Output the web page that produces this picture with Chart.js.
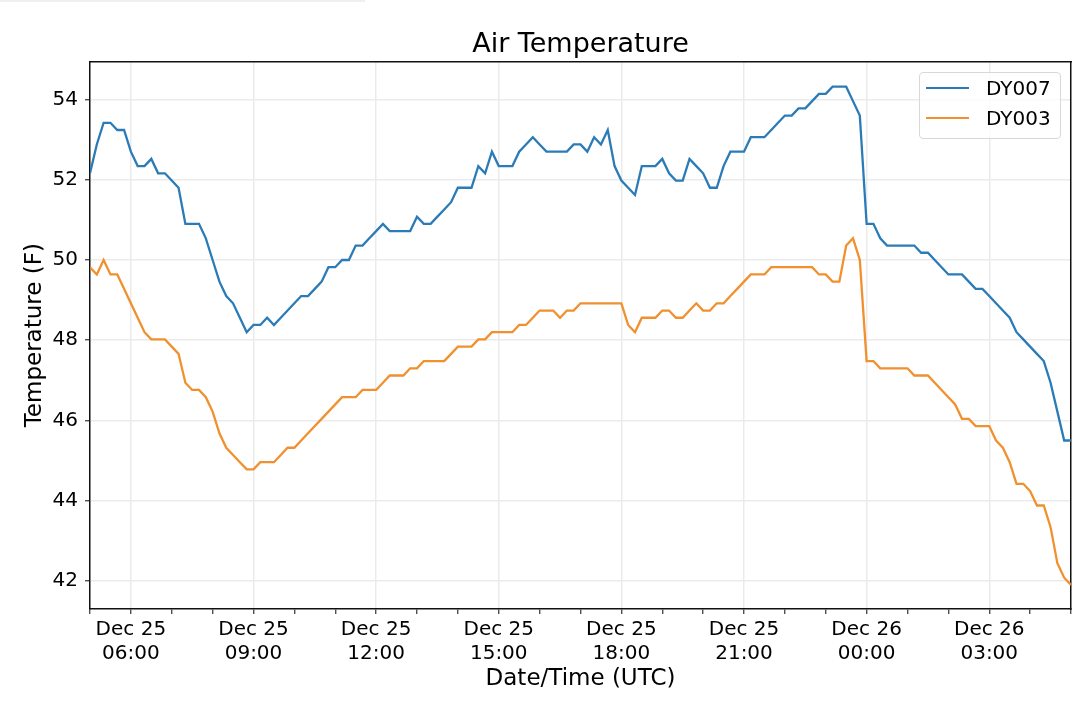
<!DOCTYPE html>
<html>
<head>
<meta charset="utf-8">
<script src="https://cdn.jsdelivr.net/npm/chart.js@4.4.1/dist/chart.umd.min.js"></script>
<style>
  body { margin: 0; background: #fff; }
  #wrap { position: relative; width: 1080px; height: 702px; }
  #topbar { position: absolute; left: 0; top: 0; width: 365px; height: 2px; background: #efefef; }
  #legend { position: absolute; left: 919px; top: 72px; width: 142px; height: 67px; box-sizing: border-box;
            border: 1px solid #d8d8d8; border-radius: 4px; background: rgba(255,255,255,0.8);
            font: 20px "DejaVu Sans"; color: #000; }
  #legend .row { display: flex; align-items: center; height: 30px; }
  #legend .swatch { width: 43px; height: 2px; margin-left: 6px; margin-right: 17px; }
</style>
</head>
<body>
<div id="wrap">
  <canvas id="canvas" width="1080" height="702"></canvas>
  <div id="topbar"></div>
  <div id="legend"></div>
</div>
<script>
// readings every 10 minutes, Dec 25 05:00 -> Dec 26 05:00 (UTC)
var startHour = 5;
var stepHours = 1 / 6;

var dy007 = [52.16, 52.88, 53.42, 53.42, 53.24, 53.24, 52.70, 52.34, 52.34, 52.52,
  52.16, 52.16, 51.98, 51.80, 50.90, 50.90, 50.90, 50.54, 50.00, 49.46,
  49.10, 48.92, 48.56, 48.20, 48.38, 48.38, 48.56, 48.38, 48.56, 48.74,
  48.92, 49.10, 49.10, 49.28, 49.46, 49.82, 49.82, 50.00, 50.00, 50.36,
  50.36, 50.54, 50.72, 50.90, 50.72, 50.72, 50.72, 50.72, 51.08, 50.90,
  50.90, 51.08, 51.26, 51.44, 51.80, 51.80, 51.80, 52.34, 52.16, 52.70,
  52.34, 52.34, 52.34, 52.70, 52.88, 53.06, 52.88, 52.70, 52.70, 52.70,
  52.70, 52.88, 52.88, 52.70, 53.06, 52.88, 53.24, 52.34, 51.98, 51.80,
  51.62, 52.34, 52.34, 52.34, 52.52, 52.16, 51.98, 51.98, 52.52, 52.34,
  52.16, 51.80, 51.80, 52.34, 52.70, 52.70, 52.70, 53.06, 53.06, 53.06,
  53.24, 53.42, 53.60, 53.60, 53.78, 53.78, 53.96, 54.14, 54.14, 54.32,
  54.32, 54.32, 53.96, 53.60, 50.90, 50.90, 50.54, 50.36, 50.36, 50.36,
  50.36, 50.36, 50.18, 50.18, 50.00, 49.82, 49.64, 49.64, 49.64, 49.46,
  49.28, 49.28, 49.10, 48.92, 48.74, 48.56, 48.20, 48.02, 47.84, 47.66,
  47.48, 46.94, 46.22, 45.50, 45.50];

var dy003 = [49.82, 49.64, 50.00, 49.64, 49.64, 49.28, 48.92, 48.56, 48.20, 48.02,
  48.02, 48.02, 47.84, 47.66, 46.94, 46.76, 46.76, 46.58, 46.22, 45.68,
  45.32, 45.14, 44.96, 44.78, 44.78, 44.96, 44.96, 44.96, 45.14, 45.32,
  45.32, 45.50, 45.68, 45.86, 46.04, 46.22, 46.40, 46.58, 46.58, 46.58,
  46.76, 46.76, 46.76, 46.94, 47.12, 47.12, 47.12, 47.30, 47.30, 47.48,
  47.48, 47.48, 47.48, 47.66, 47.84, 47.84, 47.84, 48.02, 48.02, 48.20,
  48.20, 48.20, 48.20, 48.38, 48.38, 48.56, 48.74, 48.74, 48.74, 48.56,
  48.74, 48.74, 48.92, 48.92, 48.92, 48.92, 48.92, 48.92, 48.92, 48.38,
  48.20, 48.56, 48.56, 48.56, 48.74, 48.74, 48.56, 48.56, 48.74, 48.92,
  48.74, 48.74, 48.92, 48.92, 49.10, 49.28, 49.46, 49.64, 49.64, 49.64,
  49.82, 49.82, 49.82, 49.82, 49.82, 49.82, 49.82, 49.64, 49.64, 49.46,
  49.46, 50.36, 50.54, 50.00, 47.48, 47.48, 47.30, 47.30, 47.30, 47.30,
  47.30, 47.12, 47.12, 47.12, 46.94, 46.76, 46.58, 46.40, 46.04, 46.04,
  45.86, 45.86, 45.86, 45.50, 45.32, 44.96, 44.42, 44.42, 44.24, 43.88,
  43.88, 43.34, 42.44, 42.08, 41.90];

var seriesNames = ["DY007", "DY003"];
var seriesColors = ["#2b7bb7", "#f0902e"];

// hours since Dec 25 00:00, labelled every 3 hours
var xTicks = [5, 6, 7, 8, 9, 10, 11, 12, 13, 14, 15, 16, 17, 18, 19, 20, 21, 22, 23, 24, 25, 26, 27, 28, 29];
var yTicks = [42, 44, 46, 48, 50, 52, 54];

var fontName = "DejaVu Sans";

var toPoints = function(vals) {
  return vals.map(function(v, i) { return {x: startHour + i * stepHours, y: v}; });
};
var pad2 = function(n) { return (n < 10 ? '0' : '') + n; };

var config = {
  type: 'line',
  data: {
    datasets: [dy007, dy003].map(function(vals, k) {
      return {
        label: seriesNames[k], data: toPoints(vals), xAxisID: 'x', yAxisID: 'y',
        borderColor: seriesColors[k], backgroundColor: seriesColors[k],
        borderWidth: 2.3, pointRadius: 0, tension: 0, fill: false
      };
    })
  },
  options: {
    responsive: false, animation: false,
    layout: {padding: {top: 0, right: 9, bottom: 0, left: 0}},
    plugins: {
      legend: {display: false},
      tooltip: {enabled: false},
      title: {display: true, text: 'Air Temperature', color: '#000', fullSize: false,
        font: {family: fontName, size: 27, weight: 'normal'}, padding: {top: 29, bottom: 0}}
    },
    scales: {
      x: {
        type: 'linear', position: 'bottom', min: 5, max: 29,
        afterBuildTicks: function(axis) { axis.ticks = xTicks.map(function(v) { return {value: v}; }); },
        afterFit: function(s) { s.height = 93; },
        ticks: {
          autoSkip: false, maxRotation: 0, minRotation: 0, padding: 4, color: '#000',
          font: {family: fontName, size: 20},
          callback: function(v) {
            if (v % 3 !== 0) return '';
            return ['Dec ' + (v < 24 ? 25 : 26), pad2(v % 24) + ':00'];
          }
        },
        grid: {
          color: function(ctx) { return ctx.tick && ctx.tick.value % 3 === 0 ? '#ebebeb' : 'rgba(0,0,0,0)'; },
          lineWidth: 1.5, tickLength: 5, tickColor: '#333', tickWidth: 1.2
        },
        border: {color: '#111', width: 1.5},
        title: {display: true, text: 'Date/Time (UTC)', color: '#000',
          font: {family: fontName, size: 23}, padding: {top: 0, bottom: 9}}
      },
      y: {
        position: 'left', min: 41.3, max: 54.95,
        afterBuildTicks: function(axis) { axis.ticks = yTicks.map(function(v) { return {value: v}; }); },
        afterFit: function(s) { s.width = 90; },
        ticks: {padding: 7, color: '#000', font: {family: fontName, size: 20}},
        grid: {color: '#ebebeb', lineWidth: 1.5, tickLength: 5, tickColor: '#333', tickWidth: 1.2},
        border: {color: '#111', width: 1.5},
        title: {display: true, text: 'Temperature (F)', color: '#000',
          font: {family: fontName, size: 23}, padding: {top: 21, bottom: 0}}
      },
      x2: {
        type: 'linear', position: 'top', display: true,
        ticks: {display: false}, grid: {drawOnChartArea: false, drawTicks: false},
        border: {color: '#111', width: 1.5},
        afterFit: function(s) { s.height = 0; }
      },
      y2: {
        type: 'linear', position: 'right', display: true,
        ticks: {display: false}, grid: {drawOnChartArea: false, drawTicks: false},
        border: {color: '#111', width: 1.5},
        afterFit: function(s) { s.width = 0; }
      }
    }
  }
};

window.myChart = new Chart(document.getElementById('canvas'), config);

// legend box built from the datasets
var legendBox = document.getElementById('legend');
window.myChart.data.datasets.forEach(function(ds) {
  var row = document.createElement('div');
  row.className = 'row';
  var sw = document.createElement('span');
  sw.className = 'swatch';
  sw.style.background = ds.borderColor;
  var txt = document.createElement('span');
  txt.textContent = ds.label;
  row.appendChild(sw);
  row.appendChild(txt);
  legendBox.appendChild(row);
});
</script>
</body>
</html>
